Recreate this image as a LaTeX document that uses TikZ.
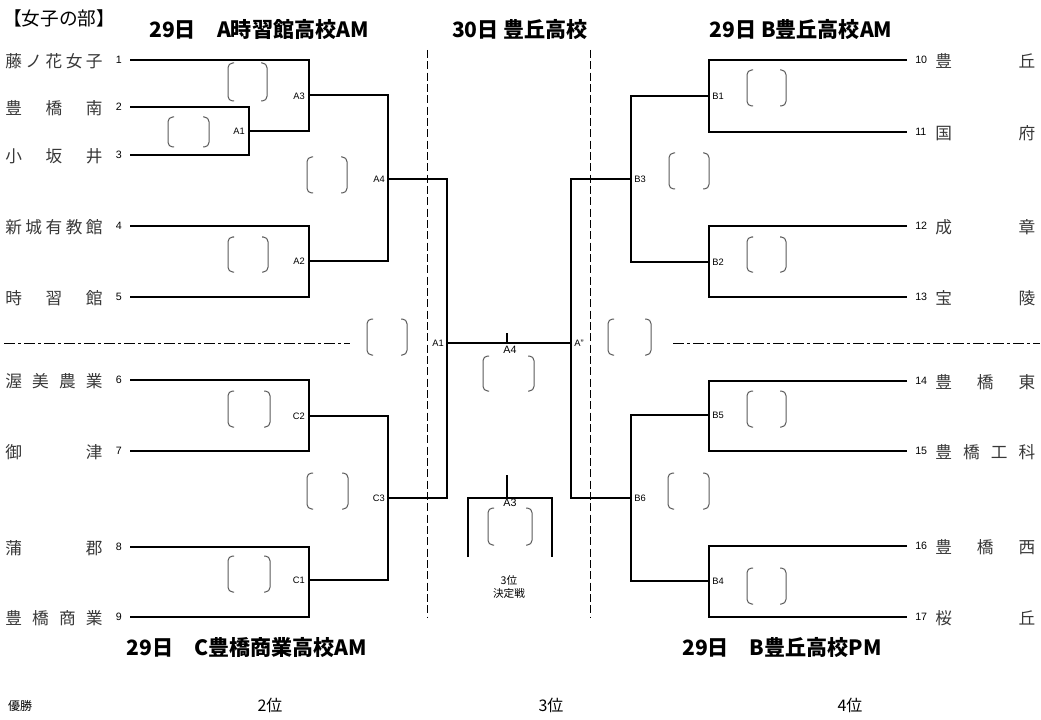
\documentclass[tikz,border=0pt]{standalone}
\usepackage{fontspec}
\setmainfont{Noto Sans CJK JP}
\newfontfamily\latf{Liberation Sans}
\begin{document}
\begin{tikzpicture}[x=0.75pt,y=-0.75pt]
\tikzset{
 ln/.style={line width=0.8pt},
 br/.style={draw=black!65, line width=0.75pt, rounded corners=3.5pt},
 tm/.style={font=\fontsize{12.5}{13}\selectfont, text=black!78, inner sep=0},
 num/.style={font=\latf\fontsize{8}{8}\selectfont, inner sep=0},
 ml/.style={font=\latf\fontsize{7}{7}\selectfont, inner sep=0},
 cl/.style={font=\latf\fontsize{8}{8}\selectfont, inner sep=0},
 hd/.style={font=\bfseries\fontsize{15.8}{16}\selectfont, inner sep=0},
 pl/.style={font=\fontsize{12}{12}\selectfont, inner sep=0},
 vdash/.style={line width=0.75pt, dash pattern=on 6pt off 2.5pt},
 hdash/.style={line width=0.75pt, dash pattern=on 8pt off 2.5pt on 2pt off 2.5pt},
}
\newcommand\brk[4]{%
 \draw[br] (#1+6,#2) -- (#1,#2) -- (#1,#4) -- (#1+6,#4);
 \draw[br] (#3-6,#2) -- (#3,#2) -- (#3,#4) -- (#3-6,#4);}
\newcommand\tname[1]{\makebox[73pt][s]{#1}}
\newcommand\rname[1]{\makebox[75pt][s]{#1}}
\useasboundingbox (0,0) rectangle (1041,720);

% headings
\node[font=\fontsize{14}{14}\selectfont, inner sep=0, anchor=west] (title) at (3,18) {【女子の部】};
\node[hd] (hA) at (259,30) {29日　A時習館高校AM};
\node[hd] (hM) at (520,30) {30日 豊丘高校};
\node[hd] (hB) at (801,30) {29日 B豊丘高校AM};
\node[hd] (hC) at (247,647) {29日　C豊橋商業高校AM};
\node[hd] (hBP) at (782,647) {29日　B豊丘高校PM};

% team start points (left)
\coordinate (t1) at (130,60);
\coordinate (t2) at (130,107);
\coordinate (t3) at (130,155);
\coordinate (t4) at (130,226);
\coordinate (t5) at (130,297);
\coordinate (t6) at (130,380);
\coordinate (t7) at (130,451);
\coordinate (t8) at (130,547);
\coordinate (t9) at (130,617);
% right
\coordinate (t10) at (907,60);
\coordinate (t11) at (907,132);
\coordinate (t12) at (907,226);
\coordinate (t13) at (907,297);
\coordinate (t14) at (907,381);
\coordinate (t15) at (907,451);
\coordinate (t16) at (907,546);
\coordinate (t17) at (907,617);
% match points
\coordinate (a1) at (249,131);
\coordinate (a3) at (309,95);
\coordinate (a2) at (309,261);
\coordinate (a4) at (388,179);
\coordinate (c2) at (309,416);
\coordinate (c1) at (309,580);
\coordinate (c3) at (388,498);
\coordinate (fl) at (447,343);
\coordinate (fr) at (571,343);
\coordinate (b1) at (709,96);
\coordinate (b2) at (709,262);
\coordinate (b3) at (631,179);
\coordinate (b5) at (709,415);
\coordinate (b4) at (709,581);
\coordinate (b6) at (631,498);
\coordinate (fin) at (507,343);
\coordinate (finT) at (507,333);
\coordinate (thL) at (468,557);
\coordinate (thR) at (552,557);
\coordinate (thM) at (507,498);
\coordinate (thT) at (507,475);

% bracket lines
\draw[ln] (t2) -| (a1) |- (t3);
\draw[ln] (t1) -| (a3);
\draw[ln] (a1) -| (a3);
\draw[ln] (t4) -| (a2) |- (t5);
\draw[ln] (a3) -| (a4) |- (a2);
\draw[ln] (t6) -| (c2) |- (t7);
\draw[ln] (t8) -| (c1) |- (t9);
\draw[ln] (c2) -| (c3) |- (c1);
\draw[ln] (a4) -| (fl) |- (c3);
\draw[ln] (fl) -- (fr);
\draw[ln] (t10) -| (b1) |- (t11);
\draw[ln] (t12) -| (b2) |- (t13);
\draw[ln] (b1) -| (b3) |- (b2);
\draw[ln] (t14) -| (b5) |- (t15);
\draw[ln] (t16) -| (b4) |- (t17);
\draw[ln] (b5) -| (b6) |- (b4);
\draw[ln] (b3) -| (fr) |- (b6);
\draw[ln] (finT) -- (fin);
\draw[ln] (thL) |- (thM) -| (thR);
\draw[ln] (thT) -- (thM);

% dashed lines
\draw[vdash] (427,50) -- (427,618);
\draw[vdash] (590,50) -- (590,618);
\draw[hdash] (4,343) -- (350,343);
\draw[hdash] (673,343) -- (1040,343);

% score brackets
\brk{228}{63}{267}{101}
\brk{168}{117}{209}{147}
\brk{307}{157}{347}{193}
\brk{228}{237}{268}{272}
\brk{367}{319}{407}{355}
\brk{228}{391}{270}{427}
\brk{307}{473}{348}{509}
\brk{228}{556}{270}{592}
\brk{747}{70}{786}{106}
\brk{669}{153}{709}{189}
\brk{747}{237}{786}{272}
\brk{608}{319}{651}{355}
\brk{747}{391}{786}{427}
\brk{668}{473}{709}{509}
\brk{747}{568}{786}{604}
\brk{483}{356}{534}{391}
\brk{488}{508}{532}{545}

% match labels
\node[ml, anchor=east] (la1) at (245,131) {A1};
\node[ml, anchor=east] (la3) at (305,96) {A3};
\node[ml, anchor=east] (la4) at (385,179) {A4};
\node[ml, anchor=east] (la2) at (305,261) {A2};
\node[ml, anchor=east] (lc2) at (305,416) {C2};
\node[ml, anchor=east] (lc1) at (305,580) {C1};
\node[ml, anchor=east] (lc3) at (385,498) {C3};
\node[ml, anchor=east] (lfl) at (444,343) {A1};
\node[ml, anchor=west] (lfr) at (574,343) {A”};
\node[ml, anchor=west] (lb1) at (712,96) {B1};
\node[ml, anchor=west] (lb3) at (634,179) {B3};
\node[ml, anchor=west] (lb2) at (712,262) {B2};
\node[ml, anchor=west] (lb5) at (712,415) {B5};
\node[ml, anchor=west] (lb6) at (634,498) {B6};
\node[ml, anchor=west] (lb4) at (712,581) {B4};
\node[cl] (lfin) at (510,350) {A4};
\node[cl] (lth) at (510,503) {A3};
\node[font=\fontsize{8}{9.5}\selectfont, inner sep=0, align=center] (th) at (509,587) {3位\\決定戦};

% team numbers left
\node[num, anchor=east] (n1) at (122,60) {1};
\node[num, anchor=east] (n2) at (122,107) {2};
\node[num, anchor=east] (n3) at (122,155) {3};
\node[num, anchor=east] (n4) at (122,226) {4};
\node[num, anchor=east] (n5) at (122,297) {5};
\node[num, anchor=east] (n6) at (122,380) {6};
\node[num, anchor=east] (n7) at (122,451) {7};
\node[num, anchor=east] (n8) at (122,547) {8};
\node[num, anchor=east] (n9) at (122,617) {9};
% team numbers right
\node[num, anchor=west] (n10) at (915,60) {10};
\node[num, anchor=west] (n11) at (915,132) {11};
\node[num, anchor=west] (n12) at (915,226) {12};
\node[num, anchor=west] (n13) at (915,297) {13};
\node[num, anchor=west] (n14) at (915,381) {14};
\node[num, anchor=west] (n15) at (915,451) {15};
\node[num, anchor=west] (n16) at (915,546) {16};
\node[num, anchor=west] (n17) at (915,617) {17};

% team names left
\node[tm, anchor=west] (s1) at (5,61) {\tname{藤\hfil ノ\hfil 花\hfil 女\hfil 子}};
\node[tm, anchor=west] (s2) at (5,108) {\tname{豊\hfil 橋\hfil 南}};
\node[tm, anchor=west] (s3) at (5,156) {\tname{小\hfil 坂\hfil 井}};
\node[tm, anchor=west] (s4) at (5,227) {\tname{新\hfil 城\hfil 有\hfil 教\hfil 館}};
\node[tm, anchor=west] (s5) at (5,298) {\tname{時\hfil 習\hfil 館}};
\node[tm, anchor=west] (s6) at (5,381) {\tname{渥\hfil 美\hfil 農\hfil 業}};
\node[tm, anchor=west] (s7) at (5,452) {\tname{御\hfil 津}};
\node[tm, anchor=west] (s8) at (5,548) {\tname{蒲\hfil 郡}};
\node[tm, anchor=west] (s9) at (5,618) {\tname{豊\hfil 橋\hfil 商\hfil 業}};
% team names right
\node[tm, anchor=west] (s10) at (935,61) {\rname{豊\hfil 丘}};
\node[tm, anchor=west] (s11) at (935,133) {\rname{国\hfil 府}};
\node[tm, anchor=west] (s12) at (935,227) {\rname{成\hfil 章}};
\node[tm, anchor=west] (s13) at (935,298) {\rname{宝\hfil 陵}};
\node[tm, anchor=west] (s14) at (935,382) {\rname{豊\hfil 橋\hfil 東}};
\node[tm, anchor=west] (s15) at (935,452) {\rname{豊\hfil 橋\hfil 工\hfil 科}};
\node[tm, anchor=west] (s16) at (935,547) {\rname{豊\hfil 橋\hfil 西}};
\node[tm, anchor=west] (s17) at (935,618) {\rname{桜\hfil 丘}};

% placings
\node[font=\fontsize{9}{9}\selectfont, inner sep=0] (p1) at (20,706) {優勝};
\node[pl] (p2) at (270,705) {2位};
\node[pl] (p3) at (551,705) {3位};
\node[pl] (p4) at (850,705) {4位};
\end{tikzpicture}
\end{document}
